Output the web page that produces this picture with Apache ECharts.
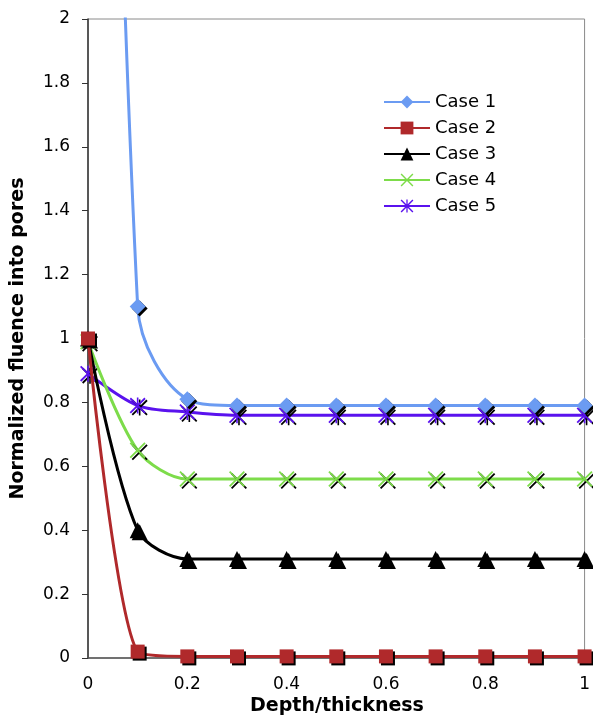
<!DOCTYPE html>
<html>
<head>
<meta charset="utf-8">
<script src="https://cdn.jsdelivr.net/npm/echarts@6/dist/echarts.min.js"></script>
<style>html,body{margin:0;padding:0;background:#fff}#c{width:593px;height:720px}</style>
</head>
<body>
<div id="c"></div>
<script>
var xValues = [0, 0.1, 0.2, 0.3, 0.4, 0.5, 0.6, 0.7, 0.8, 0.9, 1];
var case1 = [7.0, 1.10, 0.81, 0.79, 0.79, 0.79, 0.79, 0.79, 0.79, 0.79, 0.79];
var case2 = [1.00, 0.02, 0.005, 0.005, 0.005, 0.005, 0.005, 0.005, 0.005, 0.005, 0.005];
var case3 = [1.00, 0.40, 0.31, 0.31, 0.31, 0.31, 0.31, 0.31, 0.31, 0.31, 0.31];
var case4 = [0.99, 0.65, 0.56, 0.56, 0.56, 0.56, 0.56, 0.56, 0.56, 0.56, 0.56];
var case5 = [0.89, 0.79, 0.77, 0.76, 0.76, 0.76, 0.76, 0.76, 0.76, 0.76, 0.76];
var seriesNames = ['Case 1', 'Case 2', 'Case 3', 'Case 4', 'Case 5'];
var yTicks = [0, 0.2, 0.4, 0.6, 0.8, 1, 1.2, 1.4, 1.6, 1.8, 2];
var xTitle = 'Depth/thickness';
var yTitle = 'Normalized fluence into pores';

function pairs(arr) { return xValues.map(function (x, i) { return [x, arr[i]]; }); }

var xPath = 'path://M0,1.6L1.6,0L20,18.4L18.4,20Z M18.4,0L20,1.6L1.6,20L0,18.4Z';
var starPath = 'path://M0,1.6L1.6,0L20,18.4L18.4,20Z M18.4,0L20,1.6L1.6,20L0,18.4Z M9,0L11,0L11,20L9,20Z';

var colors = ['#6b9bf2', '#b0292b', '#000000', '#7ddc4a', '#5a12ee'];
var symbols = ['diamond', 'rect', 'triangle', xPath, starPath];
var sizes = [16, 14, 16, 16, 16];
var smooths = [0.35, 0.25, 0.3, 0.3, 0.3];
var data = [case1, case2, case3, case4, case5];

var series = seriesNames.map(function (n, i) {
  return {
    name: n,
    type: 'line',
    data: pairs(data[i]),
    smooth: smooths[i],
    clip: true,
    symbol: symbols[i],
    symbolSize: sizes[i],
    showAllSymbol: true,
    lineStyle: { color: colors[i], width: 3 },
    itemStyle: { color: colors[i], shadowColor: '#000', shadowOffsetX: 2, shadowOffsetY: 2, shadowBlur: 0 },
    emphasis: { disabled: true },
    z: 10 - i
  };
});

var option = {
  animation: false,
  backgroundColor: '#fff',
  title: {
    text: xTitle, left: 337, top: 697, textAlign: 'center', padding: 0,
    textStyle: { fontFamily: 'DejaVu Sans', fontWeight: 'bold', fontSize: 19, color: '#000' }
  },
  grid: { left: 88, right: 8, top: 19, bottom: 62, show: true, borderColor: '#8a8a8a', borderWidth: 1, containLabel: false },
  legend: {
    orient: 'vertical',
    left: 378, top: 88,
    itemWidth: 46, itemHeight: 16, itemGap: 8,
    textStyle: { fontFamily: 'DejaVu Sans', fontSize: 18, color: '#000' },
    itemStyle: { shadowColor: 'transparent', shadowOffsetX: 0, shadowOffsetY: 0, shadowBlur: 0 },
    data: seriesNames
  },
  xAxis: {
    type: 'value', min: 0, max: 1, interval: 0.2,
    axisLine: { show: true, lineStyle: { color: '#555', width: 1.5 } },
    axisTick: { show: false },
    splitLine: { show: false },
    axisLabel: { fontFamily: 'DejaVu Sans', fontSize: 17, color: '#000', margin: 18, verticalAlign: 'top' }
  },
  yAxis: {
    type: 'value', min: 0, max: 2, interval: 0.2,
    name: yTitle, nameLocation: 'middle', nameGap: 60,
    nameTextStyle: { fontFamily: 'DejaVu Sans', fontWeight: 'bold', fontSize: 19, color: '#000' },
    axisLine: { show: true, lineStyle: { color: '#333', width: 1.5 } },
    axisTick: { show: true, inside: false, length: 6, lineStyle: { color: '#333' } },
    splitLine: { show: false },
    axisLabel: {
      fontFamily: 'DejaVu Sans', fontSize: 17, color: '#000', margin: 18,
      formatter: function (v) { var t = yTicks.filter(function (k) { return Math.abs(k - v) < 1e-9; }); return t.length ? String(t[0]) : ''; }
    }
  },
  series: series
};

var chart = echarts.init(document.getElementById('c'), null, { renderer: 'canvas' });
chart.setOption(option);
chart.resize();
</script>
</body>
</html>
